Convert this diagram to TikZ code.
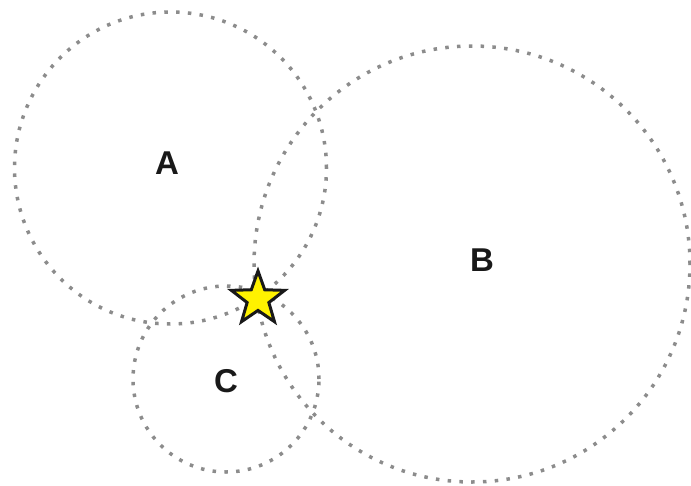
\documentclass[tikz,border=0pt]{standalone}
\usepackage{fontspec}
\setmainfont{Liberation Sans}
\usetikzlibrary{shapes.geometric}
\begin{document}
\begin{tikzpicture}[x=1pt,y=-1pt,
  zone/.style={circle,draw=black!45,line width=3.5pt,dash pattern=on 3.5pt off 8.3pt,inner sep=0pt},
  lbl/.style={font=\fontsize{33}{33}\selectfont\bfseries,text=black!90,inner sep=0pt},
  mark star/.style={star,star points=5,star point ratio=2.45,fill=yellow,draw=black!90,line width=3pt,inner sep=0pt,minimum size=56pt}]
\useasboundingbox (0,0) rectangle (691,485);
\node[zone,minimum size=312pt] (cA) at (170.5,168) {};
\node[zone,minimum size=436pt] (cB) at (472,264) {};
\node[zone,minimum size=186pt] (cC) at (226,379) {};
\node[lbl] (lA) at (167,163) {A};
\node[lbl] (lB) at (482,260) {B};
\node[lbl] (lC) at (226,381) {C};
\node[mark star] (s) at (258,299) {};
\end{tikzpicture}
\end{document}
